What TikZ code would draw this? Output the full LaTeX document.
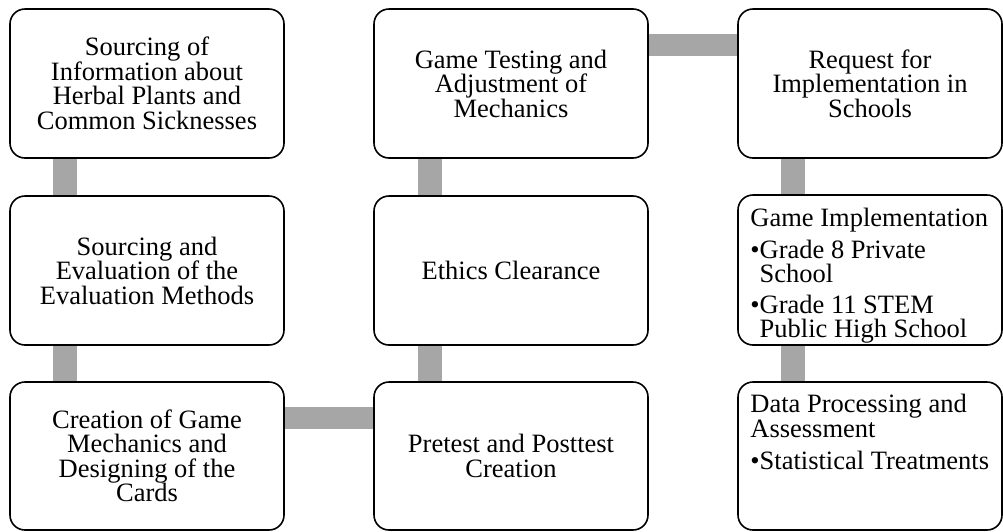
\documentclass[tikz,border=0pt]{standalone}
\usepackage{fontspec}
\setmainfont{Liberation Serif}
\usetikzlibrary{backgrounds}
\definecolor{barcol}{HTML}{A6A6A6}
\newcommand{\bul}{•}
\newcommand{\bulind}{\hspace*{\widthof{•}}}
\usepackage{calc}
\begin{document}
\begin{tikzpicture}[x=1pt,y=-1pt,
  box/.style={draw=black, line width=1.6pt, rounded corners=15pt, fill=white,
    minimum width=274pt, minimum height=149pt, inner sep=0pt, align=center,
    font=\fontsize{26.5}{24.5}\selectfont},
  narrowbox/.style={box, minimum width=264pt},
  listtext/.style={inner sep=0pt, align=left, anchor=north west,
    font=\fontsize{26.5}{24.5}\selectfont},
  vbar/.style={draw=barcol, line width=24pt},
  hbar/.style={draw=barcol, line width=22pt}]
\useasboundingbox (0,0) rectangle (1003,531);

% first column
\node[box] (src) at (147,83.5) {Sourcing of\\Information about\\Herbal Plants and\\Common Sicknesses};
\node[box] (eval) at (147,270.5) {Sourcing and\\Evaluation of the\\Evaluation Methods};
\node[box, minimum height=148pt] (mech) at (147,456) {Creation of Game\\Mechanics and\\Designing of the\\Cards};

% second column
\node[box] (test) at (511,83.5) {Game Testing and\\Adjustment of\\Mechanics};
\node[box] (ethics) at (511,270.5) {Ethics Clearance};
\node[box, minimum height=148pt] (pre) at (511,456) {Pretest and Posttest\\Creation};

% third column
\node[narrowbox] (req) at (870,83.5) {Request for\\Implementation in\\Schools};
\node[narrowbox, minimum height=150pt] (impl) at (870,270) {};
\node[narrowbox, minimum height=148pt] (data) at (870,456) {};
\node[listtext] (implt) at ([xshift=13pt,yshift=-14pt]impl.north west)
  {Game Implementation\\[7pt]\bul Grade 8 Private\\\bulind School\\[6pt]\bul Grade 11 STEM\\\bulind Public High School};
\node[listtext] (datat) at ([xshift=13pt,yshift=-13pt]data.north west)
  {Data Processing and\\Assessment\\[8pt]\bul Statistical Treatments};

% connecting bars behind the boxes
\begin{scope}[on background layer]
  \draw[vbar] ([xshift=56pt]src.south west) -- ([xshift=56pt]eval.north west);
  \draw[vbar] ([xshift=56pt]eval.south west) -- ([xshift=56pt]mech.north west);
  \draw[hbar] ([yshift=-37pt]mech.north east) -- ([yshift=-37pt]pre.north west);
  \draw[vbar] ([xshift=56.5pt]pre.north west) -- ([xshift=56.5pt]ethics.south west);
  \draw[vbar] ([xshift=56.5pt]ethics.north west) -- ([xshift=56.5pt]test.south west);
  \draw[hbar] ([yshift=-37pt]test.north east) -- ([yshift=-37pt]req.north west);
  \draw[vbar] ([xshift=55.5pt]req.south west) -- ([xshift=55.5pt]impl.north west);
  \draw[vbar] ([xshift=55.5pt]impl.south west) -- ([xshift=55.5pt]data.north west);
\end{scope}
\end{tikzpicture}
\end{document}
